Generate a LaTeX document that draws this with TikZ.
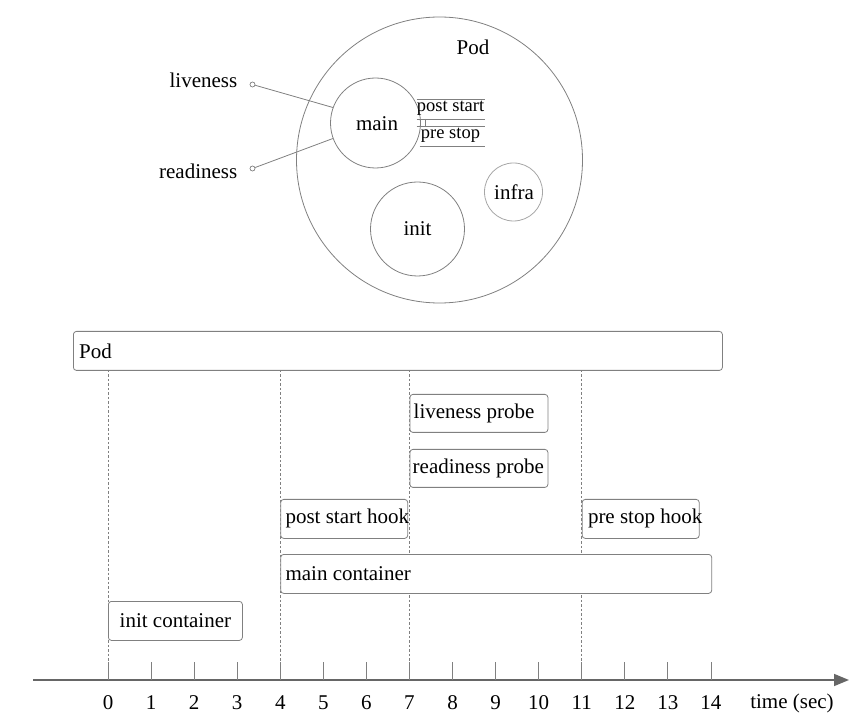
\documentclass[tikz,border=0pt]{standalone}
\usepackage{fontspec}
\setmainfont{Liberation Serif}
\usetikzlibrary{arrows.meta}
\definecolor{ln}{HTML}{808080}
\definecolor{lnlight}{HTML}{A6A6A6}
\definecolor{axc}{HTML}{666666}
\begin{document}
\begin{tikzpicture}[x=1pt,y=-1pt,
  txt/.style={inner sep=0pt,font=\fontsize{21}{25}\selectfont,text=black},
  smalltxt/.style={inner sep=0pt,font=\fontsize{18.5}{22}\selectfont,text=black},
  ring/.style={circle,draw=ln,line width=0.8pt,inner sep=0pt},
  box/.style={draw=ln,line width=0.8pt,rounded corners=3pt,fill=white,anchor=north west,inner sep=0pt},
  guide/.style={draw=ln,line width=0.8pt,dash pattern=on 2.5pt off 2pt},
  tick/.style={draw=ln,line width=0.9pt},
  hook/.style={draw=ln,line width=0.8pt},
  dot/.style={circle,draw=ln,line width=0.7pt,minimum size=5pt,inner sep=0pt,fill=white}
]
\useasboundingbox (0,0) rectangle (855,719);

% ---------- top: pod structure ----------
\node[ring,minimum size=286pt] (podc) at (439.5,160) {};
\node[txt] (podlbl) at (473,47) {Pod};
\node[ring,minimum size=90pt] (mainc) at (375.5,123) {};
\node[txt] (mainlbl) at (377,124) {main};
\node[ring,minimum size=94pt] (initc) at (417.5,229) {};
\node[txt] (initlbl) at (417.5,229) {init};
\node[circle,draw=lnlight,line width=0.8pt,inner sep=0pt,minimum size=58pt] (infrac) at (513.5,192) {};
\node[txt] (infralbl) at (514,192) {infra};

% hooks
\coordinate (h1a) at (416.5,99.3);  \coordinate (h1b) at (484.5,99.3);
\coordinate (h2a) at (416.5,119);   \coordinate (h2b) at (484.5,119);
\coordinate (h3a) at (416.5,126.7); \coordinate (h3b) at (484.5,126.7);
\coordinate (h4a) at (419.5,146.3); \coordinate (h4b) at (484.5,146.3);
\coordinate (hva) at (425.5,119);   \coordinate (hvb) at (425.5,126.7);
\draw[hook] (h1a) -- (h1b);
\draw[hook] (h2a) -- (h2b);
\draw[hook] (h3a) -- (h3b);
\draw[hook] (h4a) -- (h4b);
\draw[hook] (hva) -- (hvb);
\node[smalltxt] (pslbl) at (450.5,108) {post start};
\node[smalltxt] (prlbl) at (450.5,135) {pre stop};

% probes
\node[txt,anchor=east] (livelbl) at (237.5,80) {liveness};
\node[txt,anchor=east] (readlbl) at (237.5,171) {readiness};
\node[dot] (livedot) at (252.5,84.5) {};
\node[dot] (readdot) at (252.5,168.5) {};
\draw[hook] (livedot) -- (mainc.160);
\draw[hook] (readdot) -- (mainc.200);

% ---------- bottom: timeline ----------
% guides
\foreach \g/\x in {g0/108,g4/280.3,g7/409.5,g11/581.8}{
  \coordinate (\g top) at (\x,370);
  \coordinate (\g bot) at (\x,680);
  \draw[guide] (\g top) -- (\g bot);
}

% boxes
\node[box,minimum width=649pt,minimum height=39pt] (podbox) at (73,331) {};
\node[txt,anchor=west] (podboxlbl) at ([xshift=6pt]podbox.west) {Pod};

\node[box,minimum width=138pt,minimum height=38pt] (livebox) at (409.5,394) {};
\node[txt,anchor=west] (liveboxlbl) at ([xshift=4pt]livebox.west) {liveness probe};

\node[box,minimum width=138pt,minimum height=38pt] (readbox) at (409.5,449) {};
\node[txt,anchor=west] (readboxlbl) at ([xshift=3pt]readbox.west) {readiness probe};

\node[box,minimum width=127pt,minimum height=39pt] (psbox) at (280.3,499) {};
\node[txt,anchor=west] (psboxlbl) at ([xshift=5pt]psbox.west) {post start hook};

\node[box,minimum width=117pt,minimum height=39pt] (prbox) at (581.8,499) {};
\node[txt,anchor=west] (prboxlbl) at ([xshift=6pt]prbox.west) {pre stop hook};

\node[box,minimum width=431pt,minimum height=39pt] (mainbox) at (280.3,554) {};
\node[txt,anchor=west] (mainboxlbl) at ([xshift=5pt]mainbox.west) {main container};

\node[box,minimum width=134pt,minimum height=39pt] (initbox) at (108,601) {};
\node[txt] (initboxlbl) at (initbox.center) {init container};

% axis
\coordinate (axs) at (33,680);
\coordinate (axe) at (849,680);
\draw[draw=axc,line width=1.6pt,-{Triangle[length=15pt,width=12pt]}] (axs) -- (axe);

% ticks
\foreach \i in {0,...,14}{
  \coordinate (tk\i a) at ({108+43.07*\i},662);
  \coordinate (tk\i b) at ({108+43.07*\i},680);
  \draw[tick] (tk\i a) -- (tk\i b);
  \node[txt] (tl\i) at ({108+43.07*\i},703) {\i};
}
\node[txt] (timelbl) at (792,703) {time (sec)};
\end{tikzpicture}
\end{document}
